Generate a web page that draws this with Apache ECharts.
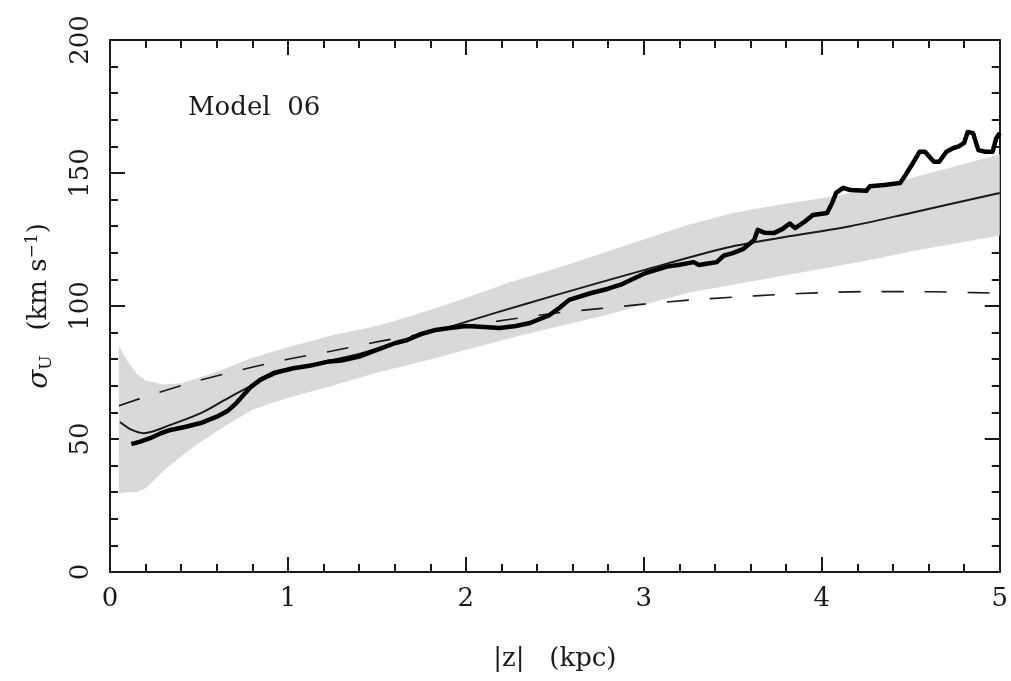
<!DOCTYPE html>
<html>
<head>
<meta charset="utf-8">
<script src="https://cdn.jsdelivr.net/npm/echarts@6/dist/echarts.min.js"></script>
<style>
  html, body { margin: 0; padding: 0; background: #fff; }
  #chart { width: 1011px; height: 681px; }
</style>
</head>
<body>
<div id="chart"></div>
<script>
// ---- data ----
const xTicks = [0, 1, 2, 3, 4, 5];
const yTicks = [0, 50, 100, 150, 200];

// grey band (dispersion range)
const bandZ  = [0.05, 0.1, 0.15, 0.2, 0.3, 0.4, 0.5, 0.65, 0.8, 1.0, 1.25, 1.5, 1.75, 2.0, 2.25, 2.5, 2.75, 3.0, 3.25, 3.5, 3.75, 4.0, 4.25, 4.5, 4.75, 5.0];
const bandHi = [85, 79, 74.5, 72, 70.5, 71, 73, 76.5, 80.5, 84.5, 89, 92.5, 97.5, 103, 109, 114, 119.5, 125, 130.5, 135, 138, 140.5, 143.5, 148, 152.5, 157];
const bandLo = [29.5, 30, 30, 31.5, 38, 43.5, 48.5, 55, 61, 65.5, 70, 75, 79, 83.5, 88, 92, 96, 100.5, 105, 108, 111, 114, 117, 120.5, 123.5, 126.5];

// thick line (model data)
const thickZ = [0.12, 0.17, 0.225, 0.28, 0.34, 0.42, 0.51, 0.6, 0.66, 0.71, 0.75, 0.79, 0.85, 0.92, 1.03, 1.12, 1.22, 1.3, 1.4, 1.5, 1.6, 1.67, 1.75, 1.83, 1.91, 2.0, 2.08, 2.19, 2.28, 2.36, 2.47, 2.53, 2.58, 2.7, 2.8, 2.87, 2.95, 3.01, 3.13, 3.2, 3.28, 3.31, 3.36, 3.41, 3.45, 3.5, 3.56, 3.62, 3.64, 3.68, 3.73, 3.78, 3.82, 3.85, 3.9, 3.95, 4.03, 4.06, 4.08, 4.12, 4.16, 4.25, 4.27, 4.35, 4.44, 4.47, 4.51, 4.55, 4.58, 4.63, 4.66, 4.7, 4.74, 4.77, 4.8, 4.82, 4.85, 4.88, 4.92, 4.96, 4.98, 5.0];
const thickV = [48.1, 49, 50.3, 52, 53.4, 54.5, 56, 58.4, 60.5, 63.5, 66.5, 69.5, 72.5, 74.8, 76.6, 77.5, 79, 79.5, 81, 83.5, 86, 87.2, 89.5, 91, 91.7, 92.5, 92.2, 91.7, 92.5, 93.6, 96.6, 99.5, 102.3, 104.8, 106.5, 108, 110.5, 112.4, 114.8, 115.5, 116.5, 115.4, 116, 116.5, 119, 119.9, 121.5, 124.8, 128.6, 127.5, 127.4, 129, 131, 129.3, 131.5, 134.2, 135, 139, 142.5, 144.4, 143.6, 143.3, 145, 145.5, 146.2, 149.2, 153.5, 158, 158, 154.2, 154.2, 158, 159.4, 160, 161.3, 165.4, 165, 158.6, 158, 158, 163, 165];

// thin line (fit)
const thinZ = [0.056, 0.12, 0.19, 0.34, 0.51, 0.64, 0.77, 0.9, 1.0, 1.2, 1.4, 1.67, 1.95, 2.17, 2.5, 3.0, 3.47, 3.8, 4.16, 4.5, 5.0];
const thinV = [56.4, 53.5, 52.2, 55.3, 59.7, 64.5, 69.2, 73.5, 76, 79, 82, 87.5, 93, 97.5, 104, 113.5, 122, 126, 130, 135, 142.5];

// dashed line (model prediction)
const dashZ = [0.05, 0.25, 0.5, 0.78, 1.0, 1.24, 1.5, 1.75, 2.0, 2.25, 2.5, 2.75, 3.0, 3.25, 3.5, 3.75, 4.0, 4.25, 4.5, 4.75, 5.0];
const dashV = [62.5, 67, 72, 76.7, 80, 83, 86.5, 89.5, 92.5, 95, 97.3, 99, 100.7, 102.2, 103.3, 104.3, 105, 105.4, 105.4, 105.2, 104.8];

// ---- chart ----
const zip = (a, b) => a.map((v, i) => [v, b[i]]);
const FONT = 'DejaVu Serif';
const INK = '#1a1a1a';

function axisCommon() {
  return {
    axisLine: { show: true, onZero: false, lineStyle: { color: INK, width: 2 } },
    axisTick: { show: true, inside: true, length: 15, lineStyle: { color: INK, width: 2 } },
    minorTick: { show: true, splitNumber: 5, length: 8, lineStyle: { color: INK, width: 2 } },
    splitLine: { show: false },
    minorSplitLine: { show: false }
  };
}

const chart = echarts.init(document.getElementById('chart'), null, { renderer: 'canvas' });
chart.setOption({
  animation: false,
  backgroundColor: '#ffffff',
  grid: { left: 110, right: 11, top: 40, bottom: 109, containLabel: false },
  xAxis: [
    Object.assign(axisCommon(), {
      type: 'value', min: xTicks[0], max: xTicks[xTicks.length - 1], interval: 1,
      position: 'bottom',
      name: '|z|   (kpc)', nameLocation: 'middle', nameGap: 74,
      nameTextStyle: { fontFamily: FONT, fontSize: 26, color: INK },
      axisLabel: { show: true, fontFamily: FONT, fontSize: 26, color: INK, margin: 14 }
    }),
    Object.assign(axisCommon(), {
      type: 'value', min: xTicks[0], max: xTicks[xTicks.length - 1], interval: 1,
      position: 'top', axisLabel: { show: false }
    })
  ],
  yAxis: [
    Object.assign(axisCommon(), {
      type: 'value', min: yTicks[0], max: yTicks[yTicks.length - 1], interval: 50,
      position: 'left',
      name: '{g|σ}{sub|U}   (km s{sup|−1})', nameLocation: 'middle', nameGap: 55,
      nameTextStyle: {
        fontFamily: FONT, fontSize: 26, color: INK,
        rich: {
          g: { fontFamily: FONT, fontSize: 28, color: INK, fontStyle: 'italic' },
          sub: { fontFamily: FONT, fontSize: 17, color: INK, verticalAlign: 'bottom', padding: [14, 0, 0, 0] },
          sup: { fontFamily: FONT, fontSize: 17, color: INK, verticalAlign: 'top', padding: [0, 0, 14, 0] }
        }
      },
      axisLabel: { show: true, rotate: 90, fontFamily: FONT, fontSize: 26, color: INK, margin: 16 }
    }),
    Object.assign(axisCommon(), {
      type: 'value', min: yTicks[0], max: yTicks[yTicks.length - 1], interval: 50,
      position: 'right', axisLabel: { show: false }
    })
  ],
  graphic: [{
    type: 'text', left: 188, top: 95,
    style: { text: 'Model  06', fontFamily: FONT, fontSize: 26, fill: INK }
  }],
  series: [
    {
      type: 'custom', name: 'band', xAxisIndex: 0, yAxisIndex: 0,
      data: [[0, 0]], clip: true, silent: true, z: 1,
      renderItem: function (params, api) {
        const pts = [];
        for (let i = 0; i < bandZ.length; i++) pts.push(api.coord([bandZ[i], bandHi[i]]));
        for (let i = bandZ.length - 1; i >= 0; i--) pts.push(api.coord([bandZ[i], bandLo[i]]));
        return { type: 'polygon', shape: { points: pts }, style: { fill: '#d9d9d9', stroke: 'none' } };
      }
    },
    {
      type: 'line', name: 'dashed', data: zip(dashZ, dashV), smooth: 0.3,
      showSymbol: false, silent: true, z: 3,
      lineStyle: { color: INK, width: 1.6, type: [22, 21] }
    },
    {
      type: 'line', name: 'fit', data: zip(thinZ, thinV), smooth: 0.3,
      showSymbol: false, silent: true, z: 4,
      lineStyle: { color: INK, width: 2 }
    },
    {
      type: 'line', name: 'model', data: zip(thickZ, thickV),
      showSymbol: false, silent: true, z: 5,
      lineStyle: { color: '#000', width: 4.5, join: 'round' }
    }
  ]
});
</script>
</body>
</html>
